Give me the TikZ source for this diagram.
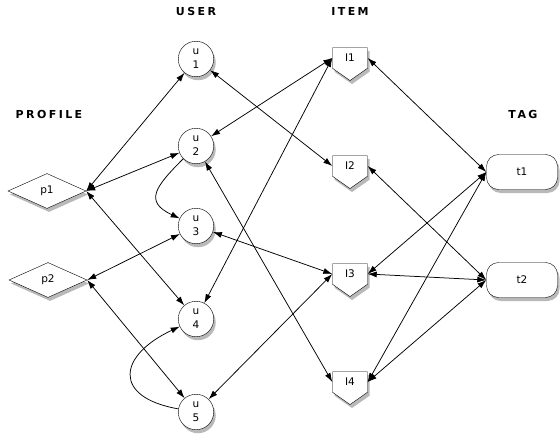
\documentclass[tikz,border=0pt]{standalone}
\usepackage{fontspec}
\setmainfont{DejaVu Sans}
\newfontfamily\headfont{DejaVu Sans}[LetterSpace=22]
\usetikzlibrary{shapes.geometric,shapes.symbols,shadows,arrows.meta}

\begin{document}
\begin{tikzpicture}[x=1pt,y=1pt,font=\fontsize{10.5}{14}\selectfont]
      \tikzstyle{every node}+=[inner sep=0pt]
      \tikzstyle{head}=[font=\headfont\bfseries\fontsize{11}{13}\selectfont]
      \tikzstyle{shade}=[drop shadow={shadow xshift=2pt,shadow yshift=-3.5pt,opacity=0.55}]
      \tikzstyle{profile}=[diamond,draw,fill=white,shade,minimum width=78pt,minimum height=35pt]
      \tikzstyle{user}=[circle,draw,fill=white,shade,minimum size=35.5pt,align=center]
      \tikzstyle{item}=[signal,signal to=south,signal pointer angle=110,draw,fill=white,shade,minimum width=35pt,minimum height=24pt]
      \tikzstyle{tag}=[rectangle,rounded corners=12pt,draw,fill=white,shade,minimum width=71pt,minimum height=35pt]
      \tikzstyle{link}=[{Latex[length=9pt,width=6pt]}-{Latex[length=9pt,width=6pt]},line width=0.75pt]
      \tikzstyle{hop}=[-{Latex[length=9pt,width=6pt]},line width=0.75pt]
      \useasboundingbox (0,0) rectangle (560,-436);
      \node [head] (hprofile) at (49,-114) {PROFILE};
      \node [head] (huser) at (196,-11) {USER};
      \node [head] (hitem) at (350,-11) {ITEM};
      \node [head] (htag) at (523,-114) {TAG};
      \node [profile] (p1) at (47,-191) {p1};
      \node [profile] (p2) at (48,-280) {p2};
      \node [user] (u1) at (196,-59) {u\\1};
      \node [user] (u2) at (196,-146) {u\\2};
      \node [user] (u3) at (196,-226) {u\\3};
      \node [user] (u4) at (196,-319) {u\\4};
      \node [user] (u5) at (196,-412) {u\\5};
      \node [item] (i1) at (350,-58) {I1};
      \node [item] (i2) at (350,-166) {I2};
      \node [item] (i3) at (350,-274) {I3};
      \node [item] (i4) at (350,-382) {I4};
      \node [tag] (t1) at (522,-172) {t1};
      \node [tag] (t2) at (522,-280) {t2};
      \draw [link] (p1.east) -- (u1);
      \draw [link] (p1.east) -- (u2);
      \draw [link] (p1.east) -- (u4);
      \draw [link] (p2.east) -- (u3);
      \draw [link] (p2.east) -- (u5);
      \draw [hop] (u2) to [out=225,in=155,looseness=1.7] (u3);
      \draw [hop] (u5) to [out=170,in=205,looseness=2.1] (u4);
      \draw [link] (u1) -- (i2.west);
      \draw [link] (u2) -- (i1.west);
      \draw [link] (u2) -- (i4.west);
      \draw [link] (u4) -- (i1.west);
      \draw [link] (u3) -- (i3.west);
      \draw [link] (u5) -- (i3.west);
      \draw [link] (i1.east) -- (t1.west);
      \draw [link] (i2.east) -- (t2.west);
      \draw [link] (i3.east) -- (t1.west);
      \draw [link] (i3.east) -- (t2.west);
      \draw [link] (i4.east) -- (t1.west);
      \draw [link] (i4.east) -- (t2.west);
\end{tikzpicture}
\end{document}
